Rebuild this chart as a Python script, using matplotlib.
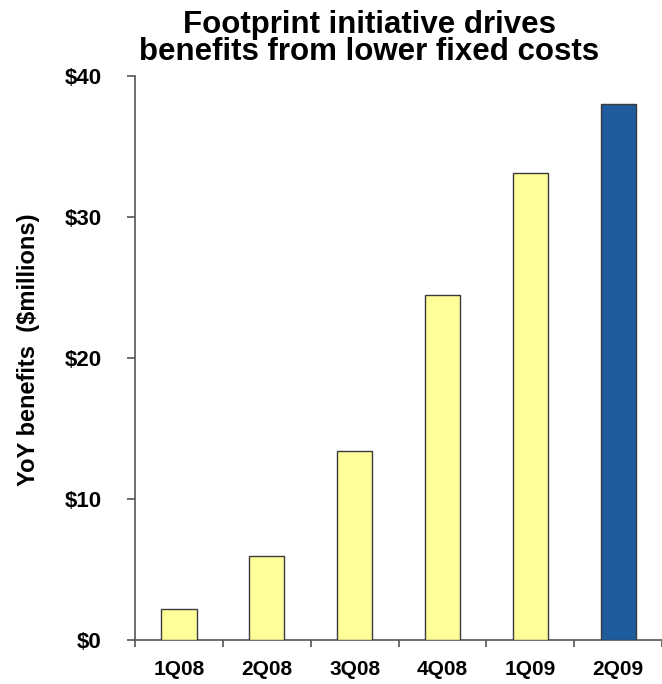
import matplotlib

matplotlib.use("Agg")
import matplotlib.pyplot as plt
import numpy as np

plt.rcParams["font.family"] = ["Liberation Sans", "DejaVu Sans"]

quarters = ["1Q08", "2Q08", "3Q08", "4Q08", "1Q09", "2Q09"]
benefits = [2.2, 6.0, 13.4, 24.5, 33.1, 38.0]
y_ticks = [0, 10, 20, 30, 40]
y_labels = ["$0", "$10", "$20", "$30", "$40"]

YELLOW = "#ffff99"
BLUE = "#1f5c9e"
EDGE = "#3a3a3a"
AXIS = "#555555"

fig = plt.figure(figsize=(6.62, 6.84), dpi=100)
ax = fig.add_axes([0.204, 0.064, 0.796, 0.825])

x = np.arange(len(quarters))
colors = [YELLOW] * (len(quarters) - 1) + [BLUE]
ax.bar(x, benefits, width=0.4, color=colors, edgecolor=EDGE, linewidth=1.0, zorder=3)

ax.set_xlim(-0.5, len(quarters) - 0.5)
ax.set_ylim(0, 40)

# category labels centred, tick marks between categories
ax.set_xticks(x)
ax.set_xticklabels(quarters, fontsize=15, fontweight="bold")
ax.set_xticks(np.arange(-0.5, len(quarters), 1.0), minor=True)
ax.tick_params(axis="x", which="major", length=0, pad=14)
ax.tick_params(axis="x", which="minor", length=5, width=1.2, color=AXIS, direction="out")

ax.set_yticks(y_ticks)
ax.set_yticklabels(y_labels, fontsize=16, fontweight="bold")
ax.tick_params(axis="y", length=6, width=1.2, color=AXIS, direction="out", pad=18)

for side in ("top", "right"):
    ax.spines[side].set_visible(False)
for side in ("left", "bottom"):
    ax.spines[side].set_color(AXIS)
    ax.spines[side].set_linewidth(1.2)

ax.set_ylabel("YoY benefits  ($millions)", fontsize=17, fontweight="bold")
ax.yaxis.set_label_coords(-0.18, 0.515)

fig.text(0.558, 0.986, "Footprint initiative drives\nbenefits from lower fixed costs",
         ha="center", va="top", fontsize=22.5, fontweight="bold", linespacing=0.88)

fig.savefig("out.png", dpi=100)
